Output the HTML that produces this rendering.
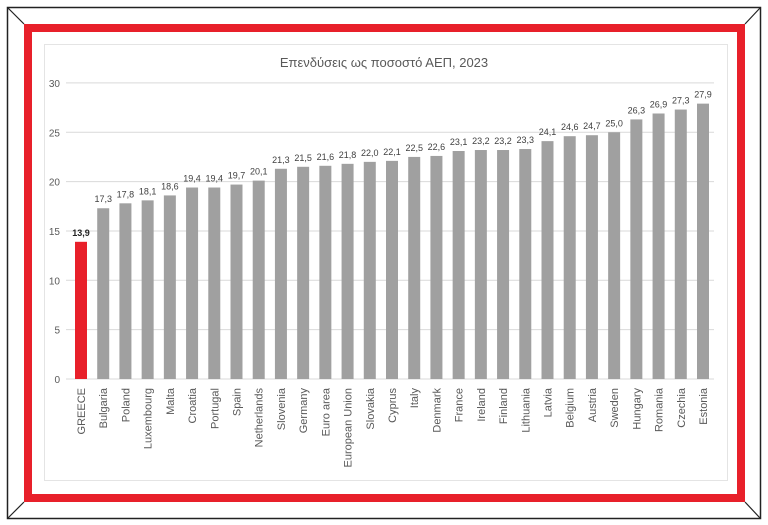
<!DOCTYPE html><html><head><style>body{margin:0;background:#fff}svg{display:block}text{font-family:"Liberation Sans",sans-serif}</style></head><body>
<svg width="768" height="525" xmlns="http://www.w3.org/2000/svg">
<rect x="7.5" y="7.5" width="753" height="511" fill="#fff" stroke="#222" stroke-width="1.5"/>
<line x1="8" y1="8" x2="24" y2="24" stroke="#222" stroke-width="1.2"/>
<line x1="760" y1="8" x2="745" y2="24" stroke="#222" stroke-width="1.2"/>
<line x1="8" y1="518" x2="24" y2="502" stroke="#222" stroke-width="1.2"/>
<line x1="760" y1="518" x2="745" y2="502" stroke="#222" stroke-width="1.2"/>
<rect x="28" y="28" width="713" height="470" fill="none" stroke="#e8202a" stroke-width="8"/>
<rect x="44.5" y="44.5" width="683" height="436" fill="#fff" stroke="#e4e4e4" stroke-width="1"/>
<text x="384" y="67" font-size="13" fill="#595959" text-anchor="middle">Επενδύσεις ως ποσοστό ΑΕΠ, 2023</text>
<g id="g"></g>
</svg>
<script>
const d=[["GREECE",13.9],["Bulgaria",17.3],["Poland",17.8],["Luxembourg",18.1],["Malta",18.6],["Croatia",19.4],["Portugal",19.4],["Spain",19.7],["Netherlands",20.1],["Slovenia",21.3],["Germany",21.5],["Euro area",21.6],["European Union",21.8],["Slovakia",22.0],["Cyprus",22.1],["Italy",22.5],["Denmark",22.6],["France",23.1],["Ireland",23.2],["Finland",23.2],["Lithuania",23.3],["Latvia",24.1],["Belgium",24.6],["Austria",24.7],["Sweden",25.0],["Hungary",26.3],["Romania",26.9],["Czechia",27.3],["Estonia",27.9]];
const ns="http://www.w3.org/2000/svg",g=document.getElementById("g");let s="";
const y0=379,k=9.87;
for(let v=0;v<=30;v+=5){const y=y0-v*k;s+=`<line x1="66" y1="${y}" x2="714" y2="${y}" stroke="#d9d9d9"/><text x="60" y="${y+4}" font-size="10" fill="#595959" text-anchor="end">${v}</text>`;}
const n=d.length,step=(703-81)/(n-1);
d.forEach((e,i)=>{const c=81+i*step,h=e[1]*k,col=i?"#a0a0a0":"#e8202a";
s+=`<rect x="${c-6}" y="${y0-h}" width="12" height="${h}" fill="${col}"/>`;
s+=`<text x="${c}" y="${y0-h-6}" font-size="9" fill="${i?'#404040':'#222'}" font-weight="${i?'normal':'bold'}" text-anchor="middle">${e[1].toFixed(1).replace('.',',')}</text>`;
s+=`<text transform="translate(${c+4},388) rotate(-90)" font-size="11" fill="#595959" text-anchor="end">${e[0]}</text>`;});
g.innerHTML=s;
</script></body></html>
